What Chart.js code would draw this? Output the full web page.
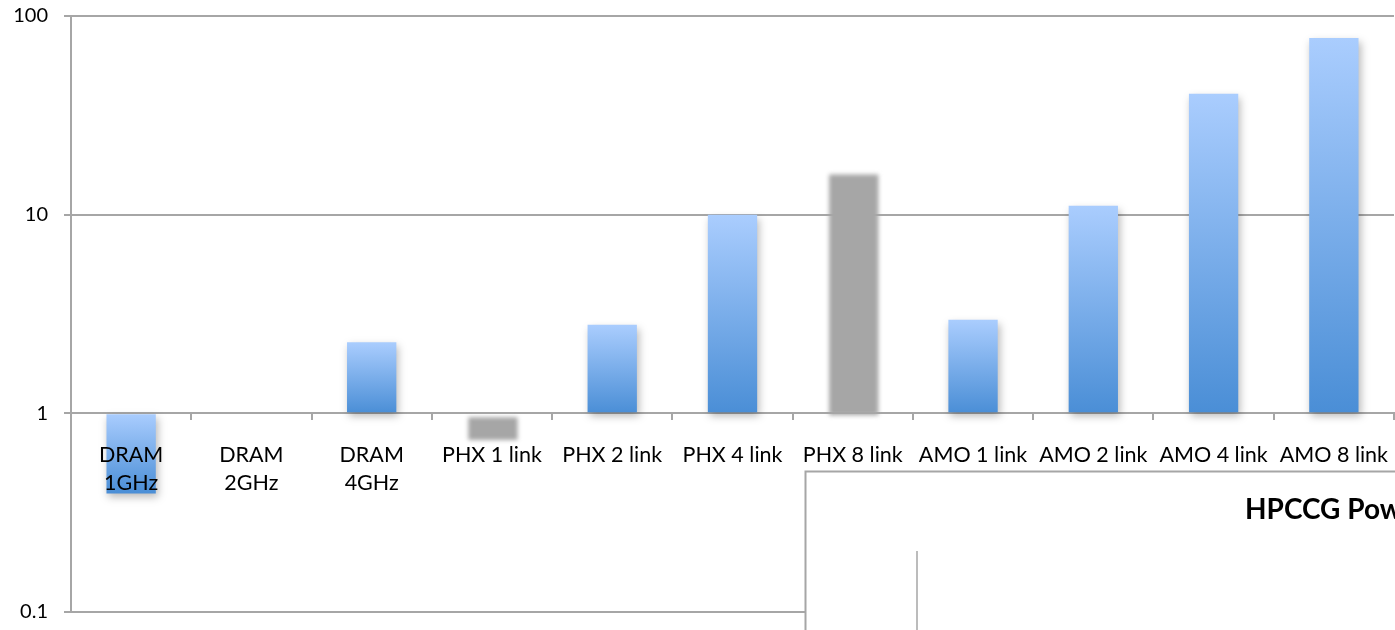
<!DOCTYPE html>
<html>
<head>
<meta charset="utf-8">
<script src="https://cdn.jsdelivr.net/npm/chart.js@4/dist/chart.umd.min.js"></script>
<style>
  html, body { margin: 0; padding: 0; background: #ffffff; }
  #wrap { width: 1395px; height: 630px; }
</style>
</head>
<body>
<div id="wrap"><canvas id="c" width="1395" height="630"></canvas></div>
<script>
// Categories along the x axis (multi-line where the label wraps)
const categories = [
  ['DRAM', '1GHz'], ['DRAM', '2GHz'], ['DRAM', '4GHz'],
  'PHX 1 link', 'PHX 2 link', 'PHX 4 link', 'PHX 8 link',
  'AMO 1 link', 'AMO 2 link', 'AMO 4 link', 'AMO 8 link'
];
// Ratios relative to the baseline (1.0), drawn as gradient bars
const blueValues = [0.395, 1, 2.28, null, 2.79, 10, null, 2.96, 11.1, 40.6, 77.6];
// Ratios drawn as soft grey bars
const greyValues = [null, null, null, 0.76, null, null, 16.5, null, null, null, null];
// Tick values on the logarithmic y axis
const yTicks = [0.1, 1, 10, 100];

const GRID = '#a6a6a6';
const FONT = 'Lato, "Open Sans", sans-serif';

function barGradient(context) {
  const chart = context.chart;
  const area = chart.chartArea;
  const v = context.raw;
  if (!area || v == null) return '#7fb0ea';
  const y = chart.scales.y;
  const top = y.getPixelForValue(Math.max(v, 1));
  const bot = y.getPixelForValue(Math.min(v, 1));
  if (!isFinite(top) || !isFinite(bot) || Math.abs(bot - top) < 1) return '#7fb0ea';
  const g = chart.ctx.createLinearGradient(0, top, 0, bot);
  g.addColorStop(0, '#aacdfe');
  g.addColorStop(1, '#4a8ed6');
  return g;
}

// Soft shadow under blue bars, blur on grey bars
const barEffects = {
  id: 'barEffects',
  beforeDatasetDraw(chart, args) {
    const ctx = chart.ctx;
    ctx.save();
    if (args.index === 0) {
      ctx.shadowColor = 'rgba(0,0,0,0.28)';
      ctx.shadowBlur = 8;
      ctx.shadowOffsetX = 2;
      ctx.shadowOffsetY = 4;
    } else {
      ctx.filter = 'blur(2px)';
      ctx.translate(1, 3);
    }
  },
  afterDatasetDraw(chart) {
    chart.ctx.restore();
  }
};

// Panel of the neighbouring chart that overlaps the lower right corner
const overlapPanel = {
  id: 'overlapPanel',
  afterDraw(chart) {
    const ctx = chart.ctx;
    ctx.save();
    ctx.fillStyle = '#ffffff';
    ctx.fillRect(805, 471, 600, 170);
    ctx.strokeStyle = GRID;
    ctx.lineWidth = 2;
    ctx.beginPath();
    ctx.moveTo(805.5, 640);
    ctx.lineTo(805.5, 471.5);
    ctx.lineTo(1400, 471.5);
    ctx.stroke();
    ctx.lineWidth = 1.5;
    ctx.beginPath();
    ctx.moveTo(917, 551);
    ctx.lineTo(917, 640);
    ctx.stroke();
    ctx.fillStyle = '#000000';
    ctx.font = 'bold 28px ' + FONT;
    ctx.textAlign = 'left';
    ctx.textBaseline = 'middle';
    ctx.fillText('HPCCG Power', 1245, 510);
    ctx.restore();
  }
};

new Chart(document.getElementById('c'), {
  type: 'bar',
  data: {
    labels: categories,
    datasets: [
      {
        data: blueValues,
        base: 1,
        grouped: false,
        backgroundColor: barGradient,
        borderWidth: 0,
        barPercentage: 0.41,
        categoryPercentage: 1
      },
      {
        data: greyValues,
        base: 1,
        grouped: false,
        backgroundColor: '#a6a6a6',
        borderWidth: 0,
        barPercentage: 0.41,
        categoryPercentage: 1
      }
    ]
  },
  options: {
    responsive: false,
    animation: false,
    events: [],
    layout: { padding: { top: 16, bottom: 18, right: 1, left: 0 } },
    plugins: { legend: { display: false }, tooltip: { enabled: false }, title: { display: false } },
    scales: {
      x: {
        type: 'category',
        position: { y: 1 },
        offset: true,
        afterFit(s) { s.height = 0; s.paddingLeft = 0; s.paddingRight = 0; },
        grid: {
          offset: true,
          drawOnChartArea: false,
          drawTicks: true,
          tickLength: 6,
          color: GRID,
          lineWidth: 2
        },
        border: { display: true, color: GRID, width: 2 },
        ticks: {
          z: 1,
          color: '#000000',
          font: { family: FONT, size: 21.5, lineHeight: 1.3 },
          padding: 22,
          maxRotation: 0,
          autoSkip: false
        }
      },
      y: {
        type: 'logarithmic',
        min: 0.1,
        max: 100,
        afterFit(s) { s.width = 71; s.paddingTop = 0; s.paddingBottom = 0; },
        afterBuildTicks(s) { s.ticks = yTicks.map(v => ({ value: v })); },
        grid: { color: GRID, lineWidth: 2, tickLength: 7 },
        border: { display: true, color: GRID, width: 2 },
        ticks: {
          color: '#000000',
          font: { family: FONT, size: 20 },
          padding: 16,
          callback: v => String(v)
        }
      }
    }
  },
  plugins: [barEffects, overlapPanel]
});
</script>
</body>
</html>
